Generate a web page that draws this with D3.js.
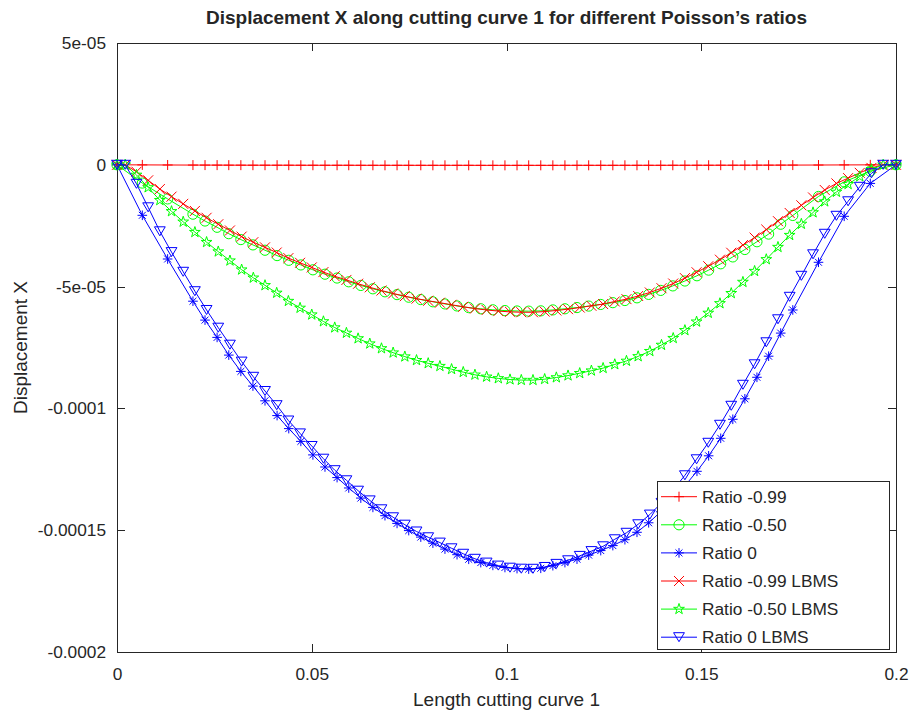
<!DOCTYPE html>
<html><head><meta charset="utf-8">
<script src="https://cdn.jsdelivr.net/npm/d3@7"></script>
<style>
body{margin:0;background:#fff}
svg{display:block}
text{font-family:"Liberation Sans",Arial,Helvetica,sans-serif;fill:#262626}
</style>
</head><body>
<svg id="chart" width="912" height="715"></svg>
<script>
// ---------------- data ----------------
const chartTitle = "Displacement X along cutting curve 1 for different Poisson’s ratios";
const xLabel = "Length cutting curve 1";
const yLabel = "Displacement X";
const xTicks = [0, 0.05, 0.1, 0.15, 0.2];
const xTickLabels = ["0", "0.05", "0.1", "0.15", "0.2"];
const yTicks = [5e-5, 0, -5e-5, -1e-4, -1.5e-4, -2e-4];
const yTickLabels = ["5e-05", "0", "-5e-05", "-0.0001", "-0.00015", "-0.0002"];
const seriesNames = ["Ratio -0.99", "Ratio -0.50", "Ratio 0", "Ratio -0.99 LBMS", "Ratio -0.50 LBMS", "Ratio 0 LBMS"];

// mesh nodes along the cutting curve (standard solver)
const xMesh = [0, 0.0065, 0.0130, 0.0195, 0.0226, 0.0257, 0.0287, 0.0318, 0.0349, 0.0380, 0.0411, 0.0441, 0.0472, 0.0503,
  0.0534, 0.0565, 0.0595, 0.0626, 0.0657, 0.0688, 0.0719, 0.0749, 0.0780, 0.0811, 0.0842, 0.0873, 0.0903, 0.0934, 0.0965,
  0.0996, 0.1027, 0.1057, 0.1088, 0.1119, 0.1150, 0.1181, 0.1211, 0.1242, 0.1273, 0.1304, 0.1335, 0.1365, 0.1396, 0.1427,
  0.1458, 0.1489, 0.1519, 0.1550, 0.1581, 0.1612, 0.1643, 0.1673, 0.1704, 0.1735, 0.1801, 0.1867, 0.1934, 0.2000];

// mesh nodes along the cutting curve (LBMS)
const xMeshLBMS = [0, 0.0021, 0.0050, 0.0080, 0.0110, 0.0140, 0.0170, 0.0200, 0.0230, 0.0260, 0.0290, 0.0320, 0.0350,
  0.0380, 0.0410, 0.0440, 0.0470, 0.0500, 0.0530, 0.0559, 0.0589, 0.0619, 0.0649, 0.0679, 0.0709, 0.0739, 0.0769, 0.0799,
  0.0829, 0.0859, 0.0889, 0.0919, 0.0949, 0.0979, 0.1009, 0.1038, 0.1068, 0.1098, 0.1128, 0.1158, 0.1188, 0.1218, 0.1248,
  0.1278, 0.1308, 0.1338, 0.1368, 0.1398, 0.1428, 0.1458, 0.1488, 0.1518, 0.1548, 0.1577, 0.1607, 0.1637, 0.1667, 0.1697,
  0.1727, 0.1757, 0.1787, 0.1817, 0.1847, 0.1877, 0.1907, 0.1937, 0.1967, 0.2000];

const dispRatioM099 = [0, -0.004e-5, -0.008e-5, -0.011e-5, -0.012e-5, -0.013e-5, -0.014e-5, -0.015e-5, -0.016e-5, -0.016e-5,
  -0.017e-5, -0.017e-5, -0.018e-5, -0.018e-5, -0.019e-5, -0.019e-5, -0.019e-5, -0.020e-5, -0.020e-5, -0.020e-5, -0.020e-5,
  -0.021e-5, -0.021e-5, -0.021e-5, -0.021e-5, -0.021e-5, -0.021e-5, -0.022e-5, -0.022e-5, -0.022e-5, -0.022e-5, -0.022e-5,
  -0.022e-5, -0.022e-5, -0.021e-5, -0.021e-5, -0.021e-5, -0.021e-5, -0.021e-5, -0.020e-5, -0.020e-5, -0.020e-5, -0.020e-5,
  -0.019e-5, -0.019e-5, -0.018e-5, -0.018e-5, -0.017e-5, -0.017e-5, -0.016e-5, -0.015e-5, -0.014e-5, -0.013e-5, -0.012e-5,
  -0.009e-5, -0.005e-5, -0.002e-5, 0];

const dispRatioM050 = [0, -0.750e-5, -1.400e-5, -2.027e-5, -2.308e-5, -2.565e-5, -2.828e-5, -3.070e-5, -3.288e-5, -3.507e-5,
  -3.727e-5, -3.920e-5, -4.110e-5, -4.311e-5, -4.491e-5, -4.648e-5, -4.803e-5, -4.953e-5, -5.091e-5, -5.214e-5, -5.329e-5,
  -5.436e-5, -5.532e-5, -5.623e-5, -5.711e-5, -5.794e-5, -5.862e-5, -5.911e-5, -5.953e-5, -5.984e-5, -6.001e-5, -6.008e-5,
  -5.996e-5, -5.957e-5, -5.911e-5, -5.861e-5, -5.800e-5, -5.733e-5, -5.659e-5, -5.571e-5, -5.461e-5, -5.320e-5, -5.156e-5,
  -4.971e-5, -4.770e-5, -4.555e-5, -4.324e-5, -4.064e-5, -3.782e-5, -3.477e-5, -3.158e-5, -2.844e-5, -2.440e-5, -2.080e-5,
  -1.300e-5, -0.700e-5, -0.260e-5, 0];

const dispRatio0 = [0, -2.073e-5, -3.867e-5, -5.599e-5, -6.375e-5, -7.085e-5, -7.812e-5, -8.481e-5, -9.084e-5, -9.688e-5,
  -10.295e-5, -10.829e-5, -11.354e-5, -11.909e-5, -12.405e-5, -12.840e-5, -13.267e-5, -13.682e-5, -14.064e-5, -14.404e-5,
  -14.721e-5, -15.016e-5, -15.283e-5, -15.533e-5, -15.776e-5, -16.005e-5, -16.194e-5, -16.330e-5, -16.445e-5, -16.531e-5,
  -16.576e-5, -16.597e-5, -16.564e-5, -16.457e-5, -16.330e-5, -16.190e-5, -16.022e-5, -15.837e-5, -15.632e-5, -15.390e-5,
  -15.086e-5, -14.696e-5, -14.244e-5, -13.731e-5, -13.177e-5, -12.582e-5, -11.946e-5, -11.227e-5, -10.447e-5, -9.606e-5,
  -8.723e-5, -7.857e-5, -6.909e-5, -5.960e-5, -4.002e-5, -2.114e-5, -0.764e-5, 0];

const dispRatioM099LBMS = [0, 0, -0.285e-5, -0.637e-5, -0.996e-5, -1.308e-5, -1.603e-5, -1.894e-5, -2.175e-5, -2.441e-5,
  -2.696e-5, -2.949e-5, -3.177e-5, -3.389e-5, -3.602e-5, -3.831e-5, -4.024e-5, -4.213e-5, -4.404e-5, -4.576e-5, -4.727e-5,
  -4.883e-5, -5.028e-5, -5.162e-5, -5.282e-5, -5.393e-5, -5.494e-5, -5.581e-5, -5.661e-5, -5.746e-5, -5.828e-5, -5.904e-5,
  -5.960e-5, -6.005e-5, -6.037e-5, -6.052e-5, -6.053e-5, -6.026e-5, -5.980e-5, -5.926e-5, -5.860e-5, -5.788e-5, -5.716e-5,
  -5.611e-5, -5.514e-5, -5.386e-5, -5.241e-5, -5.066e-5, -4.874e-5, -4.652e-5, -4.412e-5, -4.165e-5, -3.896e-5, -3.611e-5,
  -3.296e-5, -2.989e-5, -2.659e-5, -2.315e-5, -1.978e-5, -1.663e-5, -1.341e-5, -1.034e-5, -0.764e-5, -0.547e-5, -0.330e-5,
  -0.127e-5, 0, 0];

const dispRatioM050LBMS = [0, 0, -0.416e-5, -0.930e-5, -1.455e-5, -1.910e-5, -2.341e-5, -2.766e-5, -3.177e-5, -3.564e-5,
  -3.936e-5, -4.306e-5, -4.639e-5, -4.949e-5, -5.260e-5, -5.595e-5, -5.877e-5, -6.152e-5, -6.431e-5, -6.682e-5, -6.903e-5,
  -7.130e-5, -7.343e-5, -7.538e-5, -7.713e-5, -7.875e-5, -8.023e-5, -8.150e-5, -8.266e-5, -8.391e-5, -8.511e-5, -8.621e-5,
  -8.704e-5, -8.769e-5, -8.815e-5, -8.837e-5, -8.839e-5, -8.800e-5, -8.732e-5, -8.653e-5, -8.557e-5, -8.452e-5, -8.347e-5,
  -8.194e-5, -8.052e-5, -7.865e-5, -7.653e-5, -7.398e-5, -7.118e-5, -6.794e-5, -6.443e-5, -6.083e-5, -5.689e-5, -5.273e-5,
  -4.814e-5, -4.365e-5, -3.883e-5, -3.380e-5, -2.888e-5, -2.429e-5, -1.958e-5, -1.509e-5, -1.116e-5, -0.798e-5, -0.481e-5,
  -0.186e-5, 0, 0];

const dispRatio0LBMS = [0, 0, -0.780e-5, -1.745e-5, -2.730e-5, -3.584e-5, -4.392e-5, -5.189e-5, -5.960e-5, -6.687e-5,
  -7.385e-5, -8.079e-5, -8.703e-5, -9.286e-5, -9.868e-5, -10.497e-5, -11.026e-5, -11.543e-5, -12.065e-5, -12.537e-5,
  -12.951e-5, -13.378e-5, -13.776e-5, -14.142e-5, -14.470e-5, -14.774e-5, -15.053e-5, -15.291e-5, -15.509e-5, -15.743e-5,
  -15.968e-5, -16.174e-5, -16.330e-5, -16.453e-5, -16.539e-5, -16.580e-5, -16.584e-5, -16.510e-5, -16.383e-5, -16.235e-5,
  -16.055e-5, -15.858e-5, -15.661e-5, -15.373e-5, -15.106e-5, -14.757e-5, -14.359e-5, -13.879e-5, -13.354e-5, -12.746e-5,
  -12.089e-5, -11.412e-5, -10.673e-5, -9.893e-5, -9.031e-5, -8.189e-5, -7.286e-5, -6.342e-5, -5.419e-5, -4.557e-5,
  -3.674e-5, -2.832e-5, -2.094e-5, -1.498e-5, -0.903e-5, -0.349e-5, 0, 0];

// ---------------- drawing ----------------
const W = 912, H = 715;
const plotL = 117, plotR = 896, plotT = 43, plotB = 652;
const axisColor = "#262626";
const tickFont = 17.3, labelFont = 19;

const svg = d3.select("#chart");
svg.append("rect").attr("width", W).attr("height", H).attr("fill", "#fff");

const x = d3.scaleLinear().domain([0, 0.2]).range([plotL, plotR]);
const y = d3.scaleLinear().domain([-2e-4, 5e-5]).range([plotB, plotT]);

const series = [
  {name: seriesNames[0], xs: xMesh, ys: dispRatioM099, color: "#ff0000", marker: "plus"},
  {name: seriesNames[1], xs: xMesh, ys: dispRatioM050, color: "#00ff00", marker: "circle"},
  {name: seriesNames[2], xs: xMesh, ys: dispRatio0, color: "#0000ff", marker: "asterisk"},
  {name: seriesNames[3], xs: xMeshLBMS, ys: dispRatioM099LBMS, color: "#ff0000", marker: "cross"},
  {name: seriesNames[4], xs: xMeshLBMS, ys: dispRatioM050LBMS, color: "#00ff00", marker: "pentagram"},
  {name: seriesNames[5], xs: xMeshLBMS, ys: dispRatio0LBMS, color: "#0000ff", marker: "triangle"}
];

function markerPath(type) {
  switch (type) {
    case "plus": { const s = 5; return `M${-s},0H${s}M0,${-s}V${s}`; }
    case "circle": { const r = 5.1; return `M${r},0A${r},${r} 0 1,1 ${-r},0A${r},${r} 0 1,1 ${r},0Z`; }
    case "asterisk": { const s = 4.8, d = s * 0.72; return `M${-s},0H${s}M0,${-s}V${s}M${-d},${-d}L${d},${d}M${-d},${d}L${d},${-d}`; }
    case "cross": { const s = 5; return `M${-s},${-s}L${s},${s}M${-s},${s}L${s},${-s}`; }
    case "pentagram": return d3.symbol(d3.symbolStar).size(36)();
    case "triangle": { const w = 5.4, h = 4.5; return `M${-w},${-h}L${w},${-h}L0,${h}Z`; }
  }
}

// axes box (below data)
const axesG = svg.append("g");
axesG.append("rect").attr("x", plotL).attr("y", plotT).attr("width", plotR - plotL).attr("height", plotB - plotT)
  .attr("fill", "#fff").attr("stroke", axisColor).attr("stroke-width", 1).attr("shape-rendering", "crispEdges");

function styleAxis(g) {
  g.select(".domain").remove();
  g.selectAll(".tick line").attr("stroke", axisColor).attr("stroke-width", 1).attr("shape-rendering", "crispEdges");
  g.selectAll(".tick text").attr("fill", axisColor).style("font-size", tickFont + "px")
    .style("font-family", "'Liberation Sans',Arial,Helvetica,sans-serif");
}

axesG.append("g").attr("transform", `translate(0,${plotB})`)
  .call(d3.axisBottom(x).tickValues(xTicks).tickFormat((d, i) => xTickLabels[i]).tickSizeInner(-8).tickSizeOuter(0).tickPadding(16))
  .call(styleAxis);
axesG.append("g").attr("transform", `translate(0,${plotT})`)
  .call(d3.axisTop(x).tickValues(xTicks).tickFormat("").tickSizeInner(-8).tickSizeOuter(0))
  .call(styleAxis);
axesG.append("g").attr("transform", `translate(${plotL},0)`)
  .call(d3.axisLeft(y).tickValues(yTicks).tickFormat((d, i) => yTickLabels[i]).tickSizeInner(-8).tickSizeOuter(0).tickPadding(11))
  .call(styleAxis);
axesG.append("g").attr("transform", `translate(${plotR},0)`)
  .call(d3.axisRight(y).tickValues(yTicks).tickFormat("").tickSizeInner(-8).tickSizeOuter(0))
  .call(styleAxis);

// data
const dataG = svg.append("g");
const line = d3.line().x(d => x(d[0])).y(d => y(d[1]));
series.forEach(s => {
  const pts = s.xs.map((xv, i) => [xv, s.ys[i]]).filter(p => p[1] !== undefined);
  dataG.append("path").attr("d", line(pts)).attr("fill", "none").attr("stroke", s.color).attr("stroke-width", 1);
  const mp = markerPath(s.marker);
  dataG.append("g").selectAll("path").data(pts).join("path")
    .attr("d", mp)
    .attr("transform", d => `translate(${x(d[0])},${y(d[1])})`)
    .attr("fill", "none").attr("stroke", s.color).attr("stroke-width", 1);
});

// title and labels
svg.append("text").attr("x", (plotL + plotR) / 2).attr("y", 24).attr("text-anchor", "middle")
  .style("font-size", labelFont + "px").style("font-weight", "bold").attr("fill", "#000").text(chartTitle);
svg.append("text").attr("x", (plotL + plotR) / 2).attr("y", 706).attr("text-anchor", "middle")
  .style("font-size", labelFont + "px").text(xLabel);
svg.append("text").attr("transform", `translate(27,${(plotT + plotB) / 2}) rotate(-90)`).attr("text-anchor", "middle")
  .style("font-size", labelFont + "px").text(yLabel);

// legend
const lg = svg.append("g");
const lgX = 657, lgY = 481, lgW = 232, lgH = 168, rowH = 28.1, row0 = 15.7;
lg.append("rect").attr("x", lgX).attr("y", lgY).attr("width", lgW).attr("height", lgH)
  .attr("fill", "#fff").attr("stroke", axisColor).attr("stroke-width", 1).attr("shape-rendering", "crispEdges");
series.forEach((s, i) => {
  const cy = lgY + row0 + i * rowH;
  lg.append("line").attr("x1", lgX + 4).attr("x2", lgX + 40).attr("y1", cy).attr("y2", cy)
    .attr("stroke", s.color).attr("stroke-width", 1);
  lg.append("path").attr("d", markerPath(s.marker)).attr("transform", `translate(${lgX + 22},${cy})`)
    .attr("fill", "none").attr("stroke", s.color).attr("stroke-width", 1);
  lg.append("text").attr("x", lgX + 45).attr("y", cy + 6.2).style("font-size", tickFont + "px").text(s.name);
});
</script>
</body></html>
